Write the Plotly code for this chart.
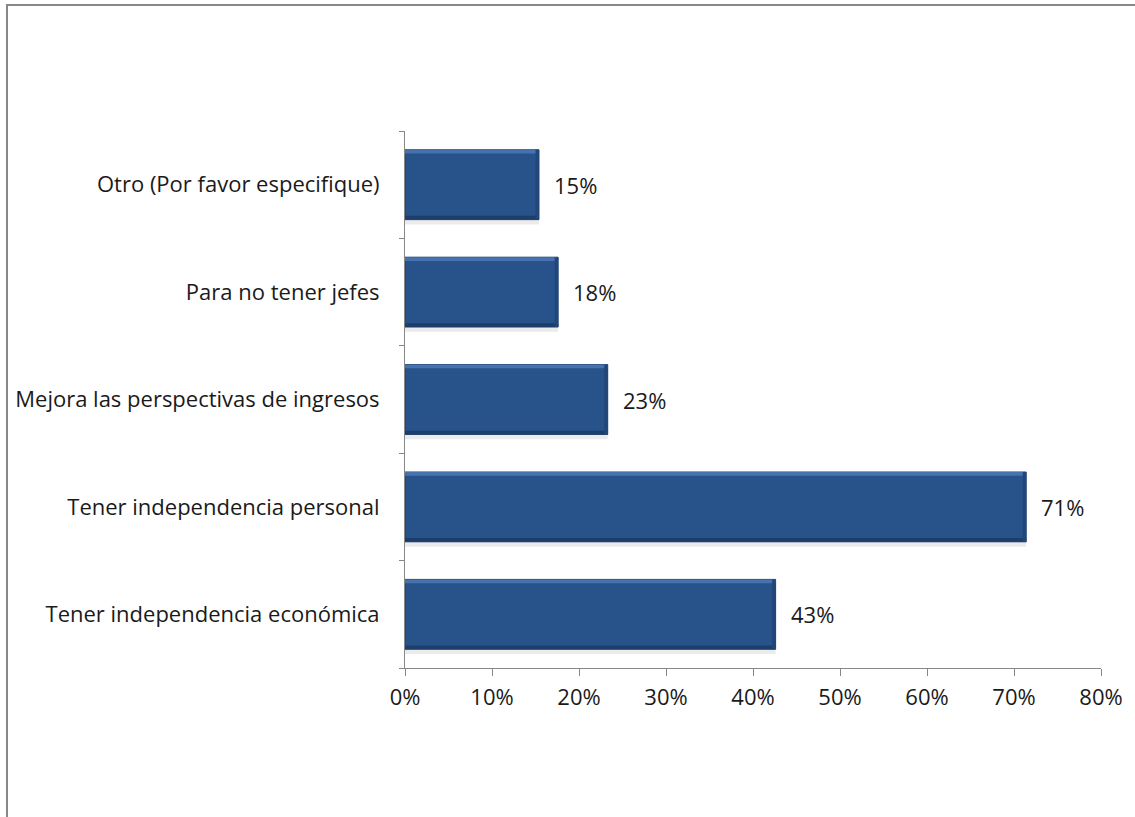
import plotly.graph_objects as go

categories = [
    "Tener independencia económica",
    "Tener independencia personal",
    "Mejora las perspectivas de ingresos",
    "Para no tener jefes",
    "Otro (Por favor especifique)",
]
values = [0.426, 0.714, 0.233, 0.176, 0.154]
labels = ["43%", "71%", "23%", "18%", "15%"]
x_ticks = [0, 0.1, 0.2, 0.3, 0.4, 0.5, 0.6, 0.7, 0.8]
x_tick_labels = ["0%", "10%", "20%", "30%", "40%", "50%", "60%", "70%", "80%"]

W, H = 1135, 817
L, R, T, B = 405, 34, 131, 149
pw, ph = W - L - R, H - T - B
FONT = "Open Sans"
FS = 22
TXT = "#1a1a1a"

BW = 0.65          # bar thickness (category units)
EDGE = 0.035       # bevel band thickness
half = BW / 2

fig = go.Figure()
# soft shadow under bars
fig.add_trace(go.Bar(
    y=categories, x=values, orientation="h",
    marker=dict(color="rgba(0,0,0,0.08)", line=dict(width=0)),
    width=0.05, offset=-half - 0.045,
    hoverinfo="skip", showlegend=False,
))
# main bar
fig.add_trace(go.Bar(
    y=categories, x=values, orientation="h",
    marker=dict(color="#27528A", line=dict(color="#1E4070", width=1)),
    width=BW, offset=-half,
    showlegend=False,
))
# top highlight band
fig.add_trace(go.Bar(
    y=categories, x=values, orientation="h",
    marker=dict(color="#4672AE", line=dict(width=0)),
    width=EDGE, offset=half - EDGE,
    hoverinfo="skip", showlegend=False,
))
# bottom dark band
fig.add_trace(go.Bar(
    y=categories, x=values, orientation="h",
    marker=dict(color="#1D3E6A", line=dict(width=0)),
    width=EDGE, offset=-half,
    hoverinfo="skip", showlegend=False,
))
# right dark edge
edge_x = 0.004
fig.add_trace(go.Bar(
    y=categories, x=[edge_x] * len(values), base=[v - edge_x for v in values],
    orientation="h",
    marker=dict(color="#21477A", line=dict(width=0)),
    width=BW, offset=-half,
    hoverinfo="skip", showlegend=False,
))

annotations = [
    dict(x=v, y=c, xref="x", yref="y", text=t, showarrow=False,
         xanchor="left", yanchor="middle", xshift=13,
         font=dict(family=FONT, size=FS, color=TXT))
    for c, v, t in zip(categories, values, labels)
]

fig.update_layout(
    width=W, height=H,
    margin=dict(l=L, r=R, t=T, b=B),
    paper_bgcolor="white", plot_bgcolor="white",
    barmode="overlay",
    font=dict(family=FONT, size=FS, color=TXT),
    annotations=annotations,
    xaxis=dict(
        range=[0, 0.8], tickvals=x_ticks, ticktext=x_tick_labels,
        showgrid=False, zeroline=False,
        showline=True, linecolor="#888888", linewidth=1,
        ticks="outside", ticklen=7, tickcolor="#888888",
        tickfont=dict(family=FONT, size=FS, color=TXT),
        ticklabelstandoff=3,
    ),
    yaxis=dict(
        showgrid=False, zeroline=False,
        showline=True, linecolor="#888888", linewidth=1,
        ticks="outside", ticklen=5, tickcolor="#888888",
        tickson="boundaries",
        tickfont=dict(family=FONT, size=FS, color=TXT),
        ticklabelstandoff=20,
    ),
    shapes=[
        dict(type="line", xref="paper", yref="paper",
             x0=(6 - L) / pw, x1=(W - L) / pw,
             y0=(H - 5 - B) / ph, y1=(H - 5 - B) / ph,
             line=dict(color="#888888", width=2)),
        dict(type="line", xref="paper", yref="paper",
             x0=(7 - L) / pw, x1=(7 - L) / pw,
             y0=(H - 5 - B) / ph, y1=-B / ph,
             line=dict(color="#888888", width=2)),
    ],
)

fig.write_html("out.html", config={"displayModeBar": False},
               post_script="document.body.style.margin='0';")
